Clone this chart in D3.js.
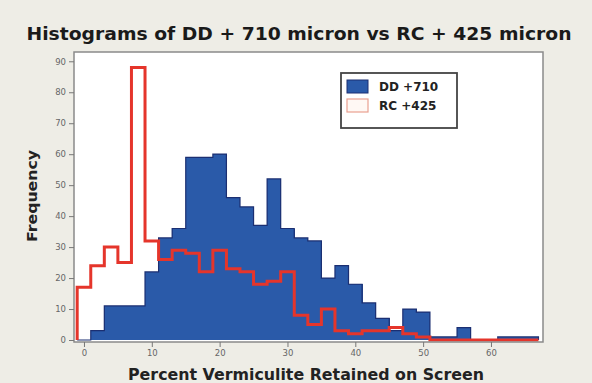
<!DOCTYPE html>
<html><head><meta charset="utf-8">
<script src="https://cdn.jsdelivr.net/npm/d3@7"></script>
<style>body{margin:0;background:#eeede6;} svg{display:block}</style>
</head><body><svg id="c" width="592" height="383"></svg>
<script>
// Bin midpoints (bin width 2)
const binMids = [0,2,4,6,8,10,12,14,16,18,20,22,24,26,28,30,32,34,36,38,40,42,44,46,48,50,52,54,56,58,60,62,64,66];
// DD +710 frequencies
const ddValues = [0,3,11,11,11,22,33,36,59,59,60,46,43,37,52,36,33,32,20,24,18,12,7,3,10,9,1,1,4,0,0,1,1,1];
// RC +425 frequencies
const rcValues = [17,24,30,25,88,32,26,29,28,22,29,23,22,18,19,22,8,5,10,3,2,3,3,4,2,1,0,0,0,0,0,0,0,0];
const yTicks = [0,10,20,30,40,50,60,70,80,90];
const xTicks = [0,10,20,30,40,50,60];
const seriesNames = ["DD +710", "RC +425"];
const binWidth = 2;

const svg = d3.select("#c");
const W = 592, H = 383;
const plot = {left:74, top:52, right:543, bottom:342};

const x = d3.scaleLinear().domain([-1.47, 67.67]).range([plot.left, plot.right]);
const y = d3.scaleLinear().domain([0, 93]).range([340, plot.top]);

const blue = "#2a5aa9", blueEdge = "#1b2f72", red = "#e5352b";

// plot background
svg.append("rect").attr("x", plot.left).attr("y", plot.top)
  .attr("width", plot.right - plot.left).attr("height", plot.bottom - plot.top)
  .attr("fill", "#ffffff");

// Blue bars
svg.append("g").selectAll("rect").data(binMids).join("rect")
  .attr("x", (m) => x(m - binWidth/2))
  .attr("width", (m) => x(m + binWidth/2) - x(m - binWidth/2) + 0.5)
  .attr("y", (m, i) => y(ddValues[i]))
  .attr("height", (m, i) => y(0) - y(ddValues[i]))
  .attr("fill", blue)
  .attr("shape-rendering", "crispEdges");

function stepPoints(vals) {
  const pts = [[binMids[0] - binWidth/2, 0]];
  vals.forEach((v, i) => {
    pts.push([binMids[i] - binWidth/2, v]);
    pts.push([binMids[i] + binWidth/2, v]);
  });
  pts.push([binMids[binMids.length-1] + binWidth/2, 0]);
  return pts;
}
const line = d3.line().x(d => x(d[0])).y(d => y(d[1]));

svg.append("path").attr("d", line(stepPoints(ddValues)))
  .attr("fill", "none").attr("stroke", blueEdge).attr("stroke-width", 1.2);

svg.append("path").attr("d", line(stepPoints(rcValues)))
  .attr("fill", "none").attr("stroke", red).attr("stroke-width", 3)
  .attr("stroke-linejoin", "miter");

// frame
svg.append("rect").attr("x", plot.left).attr("y", plot.top)
  .attr("width", plot.right - plot.left).attr("height", plot.bottom - plot.top)
  .attr("fill", "none").attr("stroke", "#8a8a8a").attr("stroke-width", 1.5);

// Axes
const yAxis = d3.axisLeft(y).tickValues(yTicks).tickSize(5).tickPadding(3);
const gy = svg.append("g").attr("transform", `translate(${plot.left},0)`).call(yAxis);
gy.select(".domain").remove();
gy.selectAll("line").attr("stroke", "#777");
gy.selectAll("text").attr("font-family", "DejaVu Sans, sans-serif").attr("font-size", 8.5).attr("fill", "#666");

const xAxis = d3.axisBottom(x).tickValues(xTicks).tickSize(5).tickPadding(3);
const gx = svg.append("g").attr("transform", `translate(0,${plot.bottom})`).call(xAxis);
gx.select(".domain").remove();
gx.selectAll("line").attr("stroke", "#777");
gx.selectAll("text").attr("font-family", "DejaVu Sans, sans-serif").attr("font-size", 8.5).attr("fill", "#666");

// Title
svg.append("text").attr("x", 299).attr("y", 40).attr("text-anchor", "middle")
  .attr("font-family", "DejaVu Sans, sans-serif").attr("font-weight", "bold").attr("font-size", 17)
  .attr("textLength", 545).attr("lengthAdjust", "spacingAndGlyphs")
  .attr("fill", "#1a1a1a")
  .text("Histograms of DD + 710 micron vs RC + 425 micron");

// Axis titles
svg.append("text").attr("x", 306).attr("y", 380).attr("text-anchor", "middle")
  .attr("font-family", "DejaVu Sans, sans-serif").attr("font-weight", "bold").attr("font-size", 15)
  .attr("textLength", 356).attr("lengthAdjust", "spacingAndGlyphs")
  .attr("fill", "#222")
  .text("Percent Vermiculite Retained on Screen");

svg.append("text").attr("transform", "translate(37,196) rotate(-90)").attr("text-anchor", "middle")
  .attr("font-family", "DejaVu Sans, sans-serif").attr("font-weight", "bold").attr("font-size", 14)
  .attr("textLength", 92).attr("lengthAdjust", "spacingAndGlyphs")
  .attr("fill", "#222")
  .text("Frequency");

// Legend
const lg = svg.append("g");
lg.append("rect").attr("x", 341).attr("y", 73).attr("width", 116).attr("height", 55)
  .attr("fill", "#fff").attr("stroke", "#444").attr("stroke-width", 1.8);
lg.append("rect").attr("x", 347).attr("y", 80).attr("width", 21).attr("height", 13)
  .attr("fill", blue).attr("stroke", blueEdge).attr("stroke-width", 1);
lg.append("rect").attr("x", 347).attr("y", 99).attr("width", 21).attr("height", 13)
  .attr("fill", "#fff8f4").attr("stroke", "#e9a090").attr("stroke-width", 1.2);
lg.selectAll("text.l").data(seriesNames).join("text").attr("class", "l")
  .attr("x", 379).attr("y", (d, i) => 91 + i * 19)
  .attr("font-family", "DejaVu Sans, sans-serif").attr("font-weight", "bold").attr("font-size", 12)
  .attr("fill", "#222")
  .text(d => d);
</script></body></html>
